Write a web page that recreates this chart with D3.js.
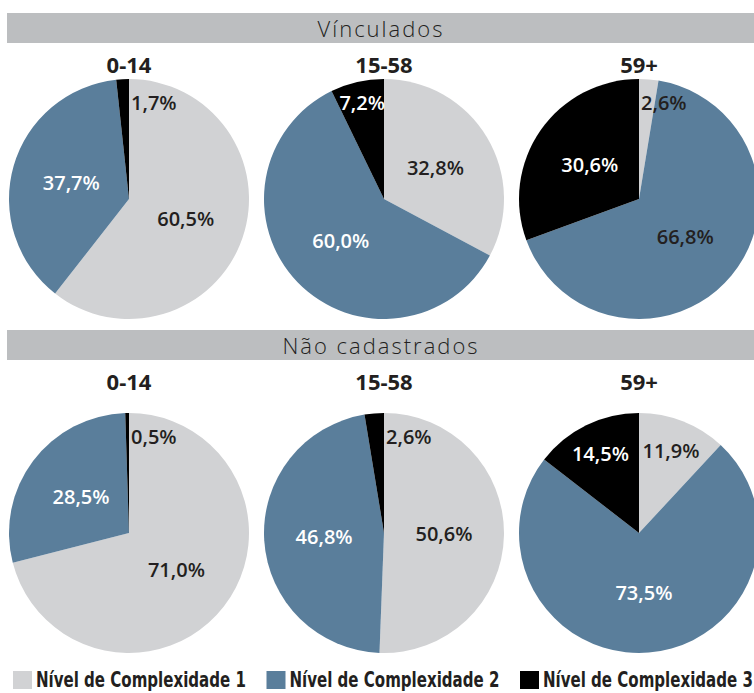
<!DOCTYPE html>
<html>
<head>
<meta charset="utf-8">
<script src="https://cdn.jsdelivr.net/npm/d3@7"></script>
<style>
  body { margin: 0; background: #fff; }
  svg { display: block; font-family: "Open Sans", sans-serif; }
</style>
</head>
<body>
<svg id="chart"></svg>
<script>
var groups = ["Vínculados", "Não cadastrados"]
var ageGroups = ["0-14", "15-58", "59+"]
var levels = ["Nível de Complexidade 1", "Nível de Complexidade 2", "Nível de Complexidade 3"]

// shares per age group, in order of levels
var vinculados = [[60.5, 37.7, 1.7], [32.8, 60.0, 7.2], [2.6, 66.8, 30.6]]
var naoCadastrados = [[71.0, 28.5, 0.5], [50.6, 46.8, 2.6], [11.9, 73.5, 14.5]]

var seriesByGroup = [vinculados, naoCadastrados]

var width = 754, height = 693
var radius = 120
var textDark = "#231f20"

var svg = d3.select("#chart")
  .attr("width", width)
  .attr("height", height)
  .attr("viewBox", `0 0 ${width} ${height}`)

var colour = d3.scaleOrdinal()
  .domain(levels)
  .range(["#d1d2d4", "#5a7e9b", "#000000"])

var xScale = d3.scalePoint()
  .domain(ageGroups)
  .range([129, 639])

// top of each section band
var yScale = d3.scalePoint()
  .domain(groups)
  .range([13, 330])

// pie centres for each section
var pieY = d3.scalePoint()
  .domain(groups)
  .range([199, 533])

var pie = d3.pie().sort(null).value(function(d) { return d })
var arc = d3.arc().innerRadius(0).outerRadius(radius)
var bigLabelArc = d3.arc().innerRadius(radius * 0.5).outerRadius(radius * 0.5)
var midLabelArc = d3.arc().innerRadius(radius * 0.73).outerRadius(radius * 0.73)

var pct = d3.formatLocale({decimal: ",", thousands: ".", grouping: [3], currency: ["", ""]}).format(".1f")

// labels on blue that stay dark in the original
var darkOnColour = {"Vínculados|59+|1": true}

groups.forEach(function(group, gi) {
  var top = yScale(group)

  svg.append("rect")
    .attr("x", 7)
    .attr("y", top)
    .attr("width", width - 7)
    .attr("height", 30)
    .attr("fill", "#bcbec0")

  svg.append("text")
    .attr("x", 381)
    .attr("y", top + 24)
    .attr("text-anchor", "middle")
    .attr("font-size", 22)
    .attr("font-weight", 300)
    .attr("letter-spacing", 2)
    .attr("fill", textDark)
    .text(group)

  var cy = pieY(group)

  ageGroups.forEach(function(age, ai) {
    var cx = xScale(age)
    var values = seriesByGroup[gi][ai]

    svg.append("text")
      .attr("x", cx)
      .attr("y", top + 60)
      .attr("text-anchor", "middle")
      .attr("font-size", 22)
      .attr("font-weight", 700)
      .attr("fill", textDark)
      .text(age)

    var g = svg.append("g")
      .attr("transform", "translate(" + cx + "," + cy + ")")

    var slices = pie(values)

    g.selectAll("path")
      .data(slices)
      .enter().append("path")
      .attr("d", arc)
      .attr("fill", function(d, i) { return colour(levels[i]) })

    slices.forEach(function(d, i) {
      var x, y, anchor = "middle", inside = true
      if (d.value >= 20) {
        var c = bigLabelArc.centroid(d)
        x = c[0]; y = c[1] + 7
      } else if (d.value >= 8) {
        var c2 = midLabelArc.centroid(d)
        x = c2[0]; y = c2[1] + 7
      } else {
        y = -radius + 31
        if (i === values.length - 1 && d.value >= 5) {
          x = 1; anchor = "end"
        } else {
          x = 2; anchor = "start"
          inside = i === 0
        }
      }
      var onColour = inside && i > 0
      var dark = !onColour || darkOnColour[group + "|" + age + "|" + i]
      g.append("text")
        .attr("x", x)
        .attr("y", y)
        .attr("text-anchor", anchor)
        .attr("font-size", 20)
        .attr("font-weight", 600)
        .attr("fill", dark ? textDark : "#ffffff")
        .text(pct(d.value) + "%")
    })
  })
})

var legendX = d3.scalePoint()
  .domain(levels)
  .range([13, 520])

var legend = svg.selectAll(".legend")
  .data(levels)
  .enter().append("g")
  .attr("class", "legend")
  .attr("transform", function(d) { return "translate(" + legendX(d) + ",671)" })

legend.append("rect")
  .attr("width", 19)
  .attr("height", 18)
  .attr("fill", function(d) { return colour(d) })

// squeeze the labels horizontally to look like the condensed original
legend.append("text")
  .attr("font-family", "'Liberation Sans Narrow', 'DejaVu Sans Condensed', sans-serif")
  .attr("font-size", 21)
  .attr("font-weight", 700)
  .attr("fill", textDark)
  .text(function(d) { return d })
  .attr("transform", function() {
    var sx = Math.min(1, 210 / this.getComputedTextLength())
    return "translate(23,16) scale(" + sx + ",1)"
  })
</script>
</body>
</html>
